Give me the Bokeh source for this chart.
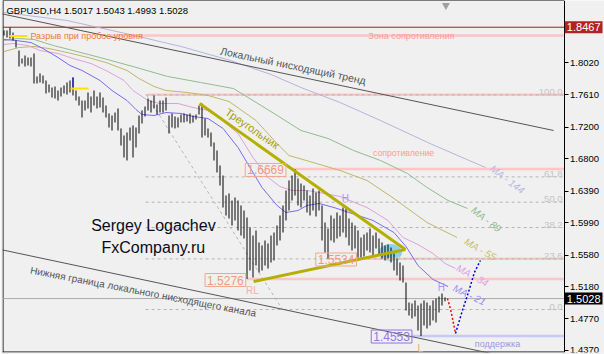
from bokeh.plotting import figure
from bokeh.models import Label, FixedTicker, PrintfTickFormatter, Range1d, LinearAxis
from bokeh.embed import file_html
from bokeh.resources import INLINE

# ---------------- data ----------------
bar_high = [1.8426,1.8426,1.8464,1.8400,1.8299,1.8172,1.8071,1.8109,1.8083,1.8083,
            1.8134,1.7843,1.7881,1.7855,1.7792,1.7741,1.7703,1.7716,1.7665,1.7703,
            1.7729,1.7767,1.7792,1.7830,1.7665,1.7589,1.7538,1.7538,1.7640,1.7589,
            1.7665,1.7589,1.7640,1.7576,1.7475,1.7374,1.7348,1.7386,1.7437,1.7184,
            1.7095,1.7133,1.7196,1.7222,1.7196,1.7348,1.7412,1.7462,1.7564,1.7538,
            1.7602,1.7488,1.7538,1.7538,1.7576,1.7348,1.7374,1.7336,1.7323,1.7361,
            1.7374,1.7361,1.7374,1.7348,1.7361,1.7475,1.7500,1.7310,1.7184,1.7133,
            1.7006,1.6905,1.6715,1.6588,1.6334,1.6360,1.6271,1.6309,1.6271,1.6208,
            1.6144,1.6056,1.5929,1.5827,1.5891,1.5739,1.5701,1.5764,1.5726,1.5827,
            1.5865,1.5954,1.6081,1.6208,1.6398,1.6525,1.6588,1.6669,1.6550,1.6486,
            1.6461,1.6398,1.6334,1.6423,1.6372,1.6398,1.6208,1.5992,1.5916,1.6081,
            1.6043,1.6119,1.6081,1.6182,1.6170,1.6043,1.5992,1.5954,1.5891,1.5802,
            1.5840,1.5865,1.5916,1.5827,1.5865,1.5789,1.5739,1.5701,1.5713,1.5675,
            1.5599,1.5536,1.5485,1.5447,1.5232,1.4978,1.4966,1.5004,1.4940,1.4966,
            1.5004,1.4978,1.4940,1.5004,1.5029,1.5054,1.5092,1.5043]
bar_low = [1.8362,1.8337,1.8324,1.8299,1.8210,1.7969,1.8007,1.7969,1.7982,1.7969,
           1.7754,1.7754,1.7767,1.7754,1.7627,1.7640,1.7576,1.7564,1.7538,1.7589,
           1.7627,1.7614,1.7640,1.7602,1.7538,1.7475,1.7323,1.7412,1.7437,1.7386,
           1.7475,1.7437,1.7450,1.7386,1.7323,1.7196,1.7158,1.7260,1.7158,1.6968,
           1.6816,1.6778,1.7031,1.6816,1.6943,1.7120,1.7247,1.7336,1.7412,1.7386,
           1.7437,1.7361,1.7386,1.7386,1.7412,1.7120,1.7196,1.7184,1.7196,1.7260,
           1.7260,1.7272,1.7247,1.7260,1.7298,1.7361,1.7069,1.7095,1.7069,1.6955,
           1.6778,1.6626,1.6461,1.6182,1.6081,1.6043,1.5954,1.6018,1.5891,1.5827,
           1.5789,1.5276,1.5384,1.5295,1.5447,1.5359,1.5384,1.5447,1.5409,1.5485,
           1.5511,1.5701,1.5764,1.5865,1.6018,1.6144,1.6271,1.6334,1.6208,1.6182,
           1.6271,1.6119,1.6081,1.6144,1.6068,1.6144,1.5764,1.5612,1.5534,1.5764,
           1.5739,1.5789,1.5815,1.5865,1.5802,1.5701,1.5637,1.5663,1.5548,1.5548,
           1.5561,1.5637,1.5612,1.5574,1.5663,1.5574,1.5536,1.5511,1.5536,1.5485,
           1.5384,1.5321,1.5257,1.5232,1.4877,1.4814,1.4776,1.4801,1.4623,1.4553,
           1.4687,1.4649,1.4687,1.4750,1.4725,1.4851,1.4940,1.4993]
bar_idx = list(range(len(bar_high)))

ma21_x = [0,4,9,13,18,22,26,32,36,41,44,46,50,54,59,63,68,73,78,82,86,91,94,98,101,105,110,116,123,130,134,138,143,148]
ma21_y = [1.8312,1.8299,1.8273,1.8197,1.8083,1.7982,1.7919,1.7792,1.7665,1.7538,1.7424,1.7361,1.7348,1.7386,
          1.7374,1.7336,1.7310,1.7184,1.6943,1.6689,1.6436,1.6208,1.6119,1.6144,1.6208,1.6233,1.6182,1.6106,
          1.6018,1.5865,1.5688,1.5447,1.5270,1.5181]
ma34_x = [0,3,8,12,18,23,29,34,40,43,48,52,58,63,68,72,78,83,88,92,96,101,105,112,121,128,133,138,143,147,150.5]
ma34_y = [1.8248,1.8261,1.8235,1.8172,1.8134,1.8071,1.8007,1.7919,1.7792,1.7665,1.7538,1.7500,1.7500,1.7450,
          1.7412,1.7310,1.7120,1.6816,1.6563,1.6448,1.6398,1.6398,1.6372,1.6322,1.6182,1.6018,1.5802,1.5713,
          1.5599,1.5473,1.5410]
ma55_x = [0,5,10,15,21,28,34,41,45,50,54,61,68,75,84,91,95,103,112,121,130,141,151]
ma55_y = [1.8159,1.8210,1.8223,1.8197,1.8147,1.8083,1.8020,1.7919,1.7817,1.7716,1.7665,1.7640,1.7602,1.7526,
          1.7285,1.6993,1.6841,1.6753,1.6651,1.6525,1.6296,1.5992,1.5802]
ma89_x = [0,4.5,10,16.5,23,32,43,54.5,65.5,76.5,83,90,99,108,116.5,125.5,134.5,141,148,154.5]
ma89_y = [1.8299,1.8324,1.8312,1.8235,1.8172,1.8083,1.7969,1.7843,1.7767,1.7690,1.7538,1.7374,1.7158,1.7057,
          1.6905,1.6778,1.6613,1.6436,1.6271,1.6170]
ma144_x = [0,21,42,59,75.5,89,99,112,125.5,142,160.5]
ma144_y = [1.8654,1.8552,1.8375,1.8223,1.8045,1.7868,1.7703,1.7513,1.7285,1.6993,1.6689]

trend_x = [-1.2, 183.2]
trend_y = [1.8641, 1.7158]
channel_x = [-1.2, 165.5]
channel_y = [1.5650, 1.4307]

tri_up_x = [65.2, 133.8]
tri_up_y = [1.7500, 1.5650]
tri_lo_x = [83.2, 133.8]
tri_lo_y = [1.5244, 1.5650]

fib_line_x = [47.5, 92.8]
fib_line_y = [1.7610, 1.4889]
fib_hi, fib_lo = 1.7610, 1.4889
fib_pct = [0.0, 23.6, 38.2, 50.0, 61.8, 100.0]
fib_labels = ["0.0", "23.6", "38.2", "50.0", "61.8", "100.0"]

pink_levels = [1.8362, 1.7610, 1.6669, 1.5534, 1.5276]
pink_start = [35.5, 48.0, 96.0, 117.0, 81.0]
support_level, support_start = 1.4553, 136.0
max_level = 1.8467
bid_level = 1.5028

red_path_x = [147.8, 148.8, 149.5, 150.5]
red_path_y = [1.5029, 1.4902, 1.4776, 1.4585]
blue_path_x = [150.5, 152.8, 154.8, 156.8, 158.8]
blue_path_y = [1.4585, 1.4877, 1.5105, 1.5359, 1.5511]

zone_x, zone_y, zone_w, zone_h = 128.8, 1.5612, 7.7, 0.0215

yellow_marks = [([1.8, 7.8], 1.8356), ([22.2, 28.2], 1.7690)]
blue_mark = (23, 1.7690, 1.7830)

axis_ticks = [1.4370, 1.4770, 1.5180, 1.5580, 1.5990, 1.6390, 1.6800, 1.7200, 1.7610, 1.8020]

# ---------------- layout ----------------
X0 = -0.5
X1 = X0 + 602 / 3.0        # frame covers the whole width right of the left border
XAX = 186.667              # position of the price scale
BG = "#F0F0F0"
FONT = "Liberation Sans"

p = figure(width=604, height=354, output_backend="svg", toolbar_location=None,
           x_range=Range1d(X0, X1), y_range=Range1d(1.43445, 1.88058),
           x_axis_location=None, y_axis_location=None,
           min_border_left=2, min_border_right=0, min_border_top=0, min_border_bottom=2,
           background_fill_color=BG, border_fill_color=BG)
p.grid.visible = False
p.outline_line_color = None

ax = LinearAxis(fixed_location=XAX)
ax.ticker = FixedTicker(ticks=axis_ticks)
ax.formatter = PrintfTickFormatter(format="%.4f")
ax.major_tick_out = 4
ax.major_tick_in = 0
ax.minor_tick_out = 0
ax.minor_tick_in = 0
ax.axis_line_color = "black"
ax.major_tick_line_color = "black"
ax.major_label_text_font = FONT
ax.major_label_text_font_size = "9.5px"
ax.major_label_text_color = "black"
ax.major_label_standoff = 2
p.add_layout(ax, "right")

# chart borders (left, bottom, top)
p.segment(x0=[X0 + 0.17, X0, X0], y0=[1.43445, 1.43445 + 0.0006, 1.88058],
          x1=[X0 + 0.17, XAX, XAX], y1=[1.88058, 1.43445 + 0.0006, 1.88058],
          line_color="black", line_width=1)

# zone ellipse
p.ellipse(x=[zone_x], y=[zone_y], width=zone_w, height=zone_h, fill_color="#87CEEB",
          line_color=None, fill_alpha=0.95)

# horizontal levels
p.segment(x0=[X0], y0=[max_level], x1=[XAX], y1=[max_level], line_color="#A01E1E", line_width=1)
p.segment(x0=pink_start, y0=pink_levels, x1=[XAX] * len(pink_levels), y1=pink_levels,
          line_color="#FFC4C4", line_width=2.5)
p.segment(x0=[support_start], y0=[support_level], x1=[XAX], y1=[support_level],
          line_color="#C8C8FA", line_width=2.5)
p.segment(x0=[X0], y0=[bid_level], x1=[XAX], y1=[bid_level], line_color="#ABABAB", line_width=1)

fib_levels = [fib_lo + (fib_hi - fib_lo) * f / 100.0 for f in fib_pct]
p.segment(x0=[47.2] * len(fib_levels), y0=fib_levels, x1=[XAX] * len(fib_levels), y1=fib_levels,
          line_color="#B4B4B4", line_width=1, line_dash="3 3")
p.line(fib_line_x, fib_line_y, line_color="#B4B4B4", line_width=1, line_dash="3 3")

# moving averages
p.line(ma144_x, ma144_y, line_color="#B4B4DC", line_width=1)
p.line(ma89_x, ma89_y, line_color="#8FBC8F", line_width=1)
p.line(ma55_x, ma55_y, line_color="#BDB76B", line_width=1)
p.line(ma34_x, ma34_y, line_color="#DDA0DD", line_width=1)
p.line(ma21_x, ma21_y, line_color="#7B68EE", line_width=1)

# trend channel
p.line(trend_x, trend_y, line_color="#555555", line_width=1)
p.line(channel_x, channel_y, line_color="#555555", line_width=1)

# bars
p.segment(x0=bar_idx, y0=bar_low, x1=bar_idx, y1=bar_high, line_color="black", line_width=1)
p.segment(x0=[blue_mark[0]], y0=[blue_mark[1]], x1=[blue_mark[0]], y1=[blue_mark[2]],
          line_color="#0000FF", line_width=1)
for xs, lvl in yellow_marks:
    p.line(xs, [lvl, lvl], line_color="#FFE000", line_width=2)

# triangle
p.line(tri_up_x, tri_up_y, line_color="#B5B000", line_width=3)
p.line(tri_lo_x, tri_lo_y, line_color="#B5B000", line_width=3)

# forecast paths
p.line(red_path_x, red_path_y, line_color="#FF0000", line_width=1.5, line_dash="2 2")
p.line(blue_path_x, blue_path_y, line_color="#0000DD", line_width=1.5, line_dash="2 2")

# shift marker
p.scatter([147.3], [1.8745], marker="inverted_triangle", size=8, fill_color="#A0A0A0", line_color=None)


def lab(x, y, text, color, size, align="center", baseline="middle", angle=0.0, style="normal",
        border=None, pad=0, bg=None):
    L = Label(x=x, y=y, text=text, text_color=color, text_font=FONT, text_font_size=size,
              text_align=align, text_baseline=baseline, angle=angle, text_font_style=style)
    if border is not None:
        L.border_line_color = border
        L.border_line_width = 1
        L.padding = pad
    if bg is not None:
        L.background_fill_color = bg
        L.padding = pad
    p.add_layout(L)


lab(0.8, 1.8679, "GBPUSD,H4  1.5017 1.5043 1.4993 1.5028", "black", "9.5px", align="left")
lab(8.8, 1.8350, "Разрыв при пробое уровня", "#F07838", "9px", align="left")
lab(135.8, 1.8362, "Зона сопротивления", "#F4A090", "9px")
lab(72.2, 1.8172, "Локальный нисходящий тренд", "#555555", "10.5px", align="left", angle=-0.205)
lab(8.8, 1.5390, "Нижняя граница локального нисходящего канала", "#555555", "10px",
    align="left", angle=-0.19)
lab(82.8, 1.7184, "Треугольник", "#A8A000", "11px", angle=-0.6)
lab(133.2, 1.6879, "сопротивление", "#F4A090", "8.7px")
lab(87.2, 1.6658, "1.6669", "#F09880", "12px", border="#F0A890", pad=2)
lab(110.7, 1.5523, "1.5534", "#F09880", "12px", border="#F0A890", pad=2)
lab(73.8, 1.5263, "1.5276", "#F09880", "12px", border="#F0A890", pad=2)
lab(129.2, 1.4547, "1.4553", "#8C78E0", "12px", border="#9370DB", pad=2)
lab(82.8, 1.5130, "RL", "#F4B0A0", "10px")
lab(113.8, 1.6296, "H", "#A898F0", "10px")
lab(145.8, 1.5168, "H", "#A898F0", "10px")
lab(138.8, 1.4395, "L", "#F0A080", "10px")
lab(164.5, 1.4452, "поддержка", "#9898E0", "9px")
lab(167.8, 1.6537, "MA - 144", "#B8B8E0", "10px", angle=-0.65, style="italic")
lab(160.8, 1.6030, "MA - 89", "#8FBC8F", "10px", angle=-0.66, style="italic")
lab(158.8, 1.5650, "MA - 55", "#C8C070", "10px", angle=-0.52, style="italic")
lab(156.2, 1.5320, "MA - 34", "#E0A0E0", "10px", angle=-0.5, style="italic")
lab(155.2, 1.5073, "MA - 21", "#9C8CF0", "10px", angle=-0.45, style="italic")
lab(49.8, 1.5954, "Sergey Logachev", "#0A0A1E", "16px")
lab(49.8, 1.5669, "FxCompany.ru", "#0A0A1E", "16px")

for lvl, t in zip(fib_levels, fib_labels):
    lab(186.2, lvl, t, "#C4C4C4", "9.5px", align="right", baseline="bottom")

# highlighted price labels on the price scale
lab(186.95, max_level, "1.8467", "white", "11px", align="left", bg="#B22222", pad=2)
lab(186.95, bid_level, "1.5028", "white", "11px", align="left", bg="black", pad=2)

open("out.html", "w").write(file_html(p, INLINE))
